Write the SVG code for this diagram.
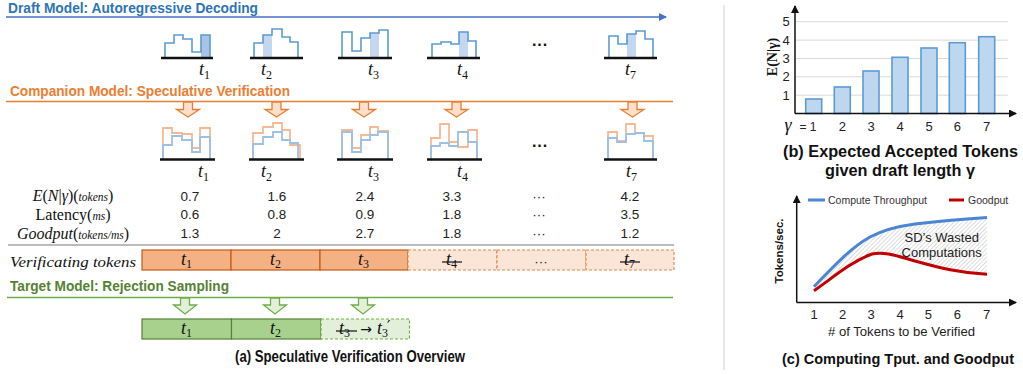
<svg xmlns="http://www.w3.org/2000/svg" width="1023" height="374" viewBox="0 0 1023 374">
<style>
.title{font-family:"Liberation Sans",Arial,sans-serif;font-weight:bold;font-size:15px}
.cap{font-family:"Liberation Sans",Arial,sans-serif;font-weight:bold;font-size:16px;fill:#111}
.tok{font-family:"Liberation Serif","DejaVu Serif",serif;font-style:italic;font-size:18px;fill:#111}
.sub{font-size:12px;font-style:normal}
.num{font-family:"Liberation Sans",Arial,sans-serif;font-size:13.5px;fill:#222;text-anchor:middle}
.dots{font-family:"Liberation Sans",Arial,sans-serif;font-size:16px;font-weight:bold;fill:#111;text-anchor:middle}
.rowl{font-family:"Liberation Serif","DejaVu Serif",serif;font-size:16px;fill:#111;text-anchor:middle}
.it{font-style:italic}
.sm{font-size:11.5px;font-style:italic}
.base{stroke:#111;stroke-width:2.5}
.dh{fill:none;stroke:#5b9bd5;stroke-width:1.6}
.dfill{fill:#bdd4ee;opacity:0.9}
.co{fill:none;stroke:#f6b994;stroke-width:1.8}
.cb{fill:none;stroke:#9cc0e6;stroke-width:1.8}
.oarr{fill:#fbe0cc;stroke:#ed7d31;stroke-width:1.3}
.garr{fill:#e2f0d9;stroke:#70ad47;stroke-width:1.3}
.vs{fill:#f4b183;stroke:#c55a11;stroke-width:1.2}
.vd{fill:#fbe5d6;stroke:#e48a4e;stroke-width:1.2;stroke-dasharray:3 2}
.gs{fill:#a9d18e;stroke:#548235;stroke-width:1.2}
.gd{fill:#e2f0d9;stroke:#70ad47;stroke-width:1.2;stroke-dasharray:3 2}
.strike{stroke:#111;stroke-width:1.2}
.ax{stroke:#111;stroke-width:1.5;fill:none}
.grid{stroke:#d9d9d9;stroke-width:1}
.tick{font-family:"Liberation Sans",Arial,sans-serif;font-size:13px;fill:#222;text-anchor:middle}
.bar{fill:#bdd7ee;stroke:#5b9bd5;stroke-width:1.6}
.leg{font-family:"Liberation Sans",Arial,sans-serif;font-size:10.5px;fill:#333}
</style>
<defs>
<marker id="bluehead" markerWidth="8" markerHeight="8" refX="7" refY="4" orient="auto" markerUnits="userSpaceOnUse"><path d="M0,0 L8,4 L0,8 Z" fill="#4472c4"/></marker>
<marker id="axhead" markerWidth="8" markerHeight="8" refX="7" refY="4" orient="auto" markerUnits="userSpaceOnUse"><path d="M0,0 L8,4 L0,8 Z" fill="#111"/></marker>
<pattern id="hatch" width="3" height="3" patternUnits="userSpaceOnUse" patternTransform="rotate(45)"><line x1="0" y1="0" x2="0" y2="3" stroke="#bbb" stroke-width="1"/></pattern>
</defs>

<!-- section titles and lines -->
<g id="draft-header">
<text class="title" x="8" y="13" fill="#2e74b5" textLength="250" lengthAdjust="spacingAndGlyphs">Draft Model: Autoregressive Decoding</text>
<line x1="6" y1="17" x2="666" y2="17" stroke="#4472c4" stroke-width="1.6" marker-end="url(#bluehead)"/>
</g>
<g id="companion-header">
<text class="title" x="10" y="96" fill="#ed7d31" textLength="280" lengthAdjust="spacingAndGlyphs">Companion Model: Speculative Verification</text>
<line x1="6" y1="101.5" x2="673" y2="101.5" stroke="#ed7d31" stroke-width="1.6"/>
</g>
<g id="target-header">
<text class="title" x="10" y="291" fill="#548235" textLength="219" lengthAdjust="spacingAndGlyphs">Target Model: Rejection Sampling</text>
<line x1="7" y1="297.5" x2="673" y2="297.5" stroke="#70ad47" stroke-width="1.6"/>
</g>

<!-- draft histograms -->
<g id="draft-t1">
<rect x="201" y="35" width="9" height="23" fill="#a9c4e6"/>
<path class="dh" d="M165,58 V43 H174 V35 H183 V39 H192 V52 H201 V35 H210 V58"/>
<line class="base" x1="161" y1="58" x2="213" y2="58"/>
<text class="tok" x="199" y="75">t<tspan class="sub" dy="4">1</tspan></text>
</g>
<g id="draft-t2">
<rect class="dfill" x="263" y="35" width="9" height="23"/>
<path class="dh" d="M254,58 V43 H263 V35 H272 V29 H282 V37 H290 V42 H298 V58"/>
<line class="base" x1="250" y1="58" x2="303" y2="58"/>
<text class="tok" x="261" y="75">t<tspan class="sub" dy="4">2</tspan></text>
</g>
<g id="draft-t3">
<rect class="dfill" x="370" y="33" width="9" height="25"/>
<path class="dh" d="M342,58 V32 H352 V51 H361 V38 H370 V33 H379 V30 H388 V58"/>
<line class="base" x1="338" y1="58" x2="392" y2="58"/>
<text class="tok" x="368" y="75">t<tspan class="sub" dy="4">3</tspan></text>
</g>
<g id="draft-t4">
<rect class="dfill" x="459" y="32" width="9" height="26"/>
<path class="dh" d="M432,58 V44 H441 V42 H451 V44 H459 V32 H468 V41 H476 V58"/>
<line class="base" x1="427" y1="58" x2="480" y2="58"/>
<text class="tok" x="457" y="75">t<tspan class="sub" dy="4">4</tspan></text>
</g>
<g id="draft-dots"><text class="dots" x="540" y="50">···</text></g>
<g id="draft-t7">
<rect class="dfill" x="627" y="34" width="9" height="24"/>
<path class="dh" d="M609,58 V36 H618 V44 H627 V34 H636 V31 H645 V39 H653 V58"/>
<line class="base" x1="604" y1="58" x2="657" y2="58"/>
<text class="tok" x="625" y="75">t<tspan class="sub" dy="4">7</tspan></text>
</g>

<!-- orange arrows -->
<g id="orange-arrows">
<path class="oarr" d="M183.5,102 H192.5 V109.5 H199.5 L188,117 L176.5,109.5 H183.5 Z"/>
<path class="oarr" d="M272,102 H281 V109.5 H288 L276.5,117 L265,109.5 H272 Z"/>
<path class="oarr" d="M359.5,102 H368.5 V109.5 H375.5 L364,117 L352.5,109.5 H359.5 Z"/>
<path class="oarr" d="M452,102 H461 V109.5 H468 L456.5,117 L445,109.5 H452 Z"/>
<path class="oarr" d="M628,102 H637 V109.5 H644 L632.5,117 L621,109.5 H628 Z"/>
</g>

<!-- companion histograms -->
<g id="comp-t1">
<path class="co" d="M163,159 V128 H172 V133 H182 V134 H192 V148 H200 V128 H210 V159"/>
<path class="cb" d="M163,159 V145 H172 V136 H182 V140 H192 V152 H200 V137 H210 V159"/>
<line class="base" x1="160" y1="159.5" x2="215" y2="159.5"/>
<text class="tok" x="198" y="177">t<tspan class="sub" dy="4">1</tspan></text>
</g>
<g id="comp-t2">
<path class="co" d="M253,159 V133 H263 V127 H273 V123 H282 V130 H290 V145 H300 V159"/>
<path class="cb" d="M253,159 V144 H263 V137 H273 V132 H282 V140 H290 V143 H298 V159"/>
<line class="base" x1="249" y1="159.5" x2="304" y2="159.5"/>
<text class="tok" x="261" y="177">t<tspan class="sub" dy="4">2</tspan></text>
</g>
<g id="comp-t3">
<path class="co" d="M342,159 V130 H352 V148 H361 V135 H370 V127 H378 V131 H388 V159"/>
<path class="cb" d="M342,159 V132 H352 V152 H361 V140 H370 V135 H378 V132 H388 V159"/>
<line class="base" x1="337" y1="159.5" x2="393" y2="159.5"/>
<text class="tok" x="368" y="177">t<tspan class="sub" dy="4">3</tspan></text>
</g>
<g id="comp-t4">
<path class="co" d="M431,159 V138 H440 V124 H449 V142 H458 V147 H468 V130 H477 V159"/>
<path class="cb" d="M431,159 V146 H440 V143 H449 V146 H458 V132 H468 V142 H477 V159"/>
<line class="base" x1="427" y1="159.5" x2="482" y2="159.5"/>
<text class="tok" x="457" y="177">t<tspan class="sub" dy="4">4</tspan></text>
</g>
<g id="comp-dots"><text class="dots" x="540" y="151">···</text></g>
<g id="comp-t7">
<path class="co" d="M608,159 V132 H617 V141 H626 V124 H635 V133 H644 V136 H653 V159"/>
<path class="cb" d="M608,159 V138 H617 V142 H626 V134 H635 V133 H644 V141 H653 V159"/>
<line class="base" x1="604" y1="159.5" x2="657" y2="159.5"/>
<text class="tok" x="626" y="177">t<tspan class="sub" dy="4">7</tspan></text>
</g>

<!-- table -->
<g id="table">
<text class="rowl" x="73" y="201"><tspan class="it">E</tspan>(<tspan class="it">N</tspan>|<tspan class="it">γ</tspan>)(<tspan class="sm">tokens</tspan>)</text>
<text class="rowl" x="73" y="220">Latency(<tspan class="sm">ms</tspan>)</text>
<text class="rowl" x="73" y="239"><tspan class="it">Goodput</tspan>(<tspan class="sm">tokens/ms</tspan>)</text>
<text class="num" x="190" y="201">0.7</text><text class="num" x="277" y="201">1.6</text><text class="num" x="365" y="201">2.4</text><text class="num" x="452" y="201">3.3</text><text class="num" x="539" y="201">···</text><text class="num" x="630" y="201">4.2</text>
<text class="num" x="190" y="219">0.6</text><text class="num" x="277" y="219">0.8</text><text class="num" x="365" y="219">0.9</text><text class="num" x="452" y="219">1.8</text><text class="num" x="539" y="219">···</text><text class="num" x="630" y="219">3.5</text>
<text class="num" x="190" y="238">1.3</text><text class="num" x="277" y="238">2</text><text class="num" x="365" y="238">2.7</text><text class="num" x="452" y="238">1.8</text><text class="num" x="539" y="238">···</text><text class="num" x="630" y="238">1.2</text>
<line x1="8" y1="245" x2="674" y2="245" stroke="#a6a6a6" stroke-width="1.5"/>
</g>

<!-- verificating tokens -->
<g id="verify-row">
<text class="tok" x="10" y="267" style="font-size:15px" textLength="126" lengthAdjust="spacingAndGlyphs">Verificating tokens</text>
<rect class="vs" x="142" y="250" width="89" height="20"/>
<rect class="vs" x="231" y="250" width="89" height="20"/>
<rect class="vs" x="320" y="250" width="88" height="20"/>
<rect class="vd" x="408" y="250" width="89" height="20"/>
<rect class="vd" x="497" y="250" width="89" height="20"/>
<rect class="vd" x="586" y="250" width="88" height="20"/>
<text class="tok" x="181" y="265">t<tspan class="sub" dy="3">1</tspan></text>
<text class="tok" x="270" y="265">t<tspan class="sub" dy="3">2</tspan></text>
<text class="tok" x="358" y="265">t<tspan class="sub" dy="3">3</tspan></text>
<text class="tok" x="446" y="265">t<tspan class="sub" dy="3">4</tspan></text>
<line class="strike" x1="442" y1="262" x2="462" y2="262"/>
<text class="num" x="541" y="266">···</text>
<text class="tok" x="624" y="265">t<tspan class="sub" dy="3">7</tspan></text>
<line class="strike" x1="620" y1="262" x2="640" y2="262"/>
</g>

<!-- green arrows -->
<g id="green-arrows">
<path class="garr" d="M180.5,298 H189.5 V305 H196.5 L185,314 L173.5,305 H180.5 Z"/>
<path class="garr" d="M270.5,298 H279.5 V305 H286.5 L275,314 L263.5,305 H270.5 Z"/>
<path class="garr" d="M358.5,298 H367.5 V305 H374.5 L363,314 L351.5,305 H358.5 Z"/>
</g>

<!-- target output row -->
<g id="target-row">
<rect class="gs" x="142" y="319" width="89.5" height="20"/>
<rect class="gs" x="231.5" y="319" width="89.5" height="20"/>
<rect class="gd" x="321" y="319" width="88.5" height="20"/>
<text class="tok" x="181" y="334">t<tspan class="sub" dy="3">1</tspan></text>
<text class="tok" x="270" y="334">t<tspan class="sub" dy="3">2</tspan></text>
<text class="tok" x="339" y="334">t<tspan class="sub" dy="3">3</tspan></text>
<line class="strike" x1="336" y1="331" x2="357" y2="331"/>
<text x="366" y="334" text-anchor="middle" font-family="DejaVu Sans,sans-serif" font-size="14" fill="#111">→</text>
<text class="tok" x="377" y="334">t<tspan class="sub" dy="3">3</tspan></text>
<text x="387" y="332" font-family="DejaVu Sans,sans-serif" font-size="15" fill="#111">′</text>
</g>

<g id="caption-a"><text class="cap" x="235" y="362" textLength="230" lengthAdjust="spacingAndGlyphs">(a) Speculative Verification Overview</text></g>

<line id="divider" x1="724" y1="5" x2="724" y2="370" stroke="#d0d0d0" stroke-width="1"/>

<!-- chart b -->
<g id="chart-b">
<line class="grid" x1="796" y1="21.7" x2="1008" y2="21.7"/>
<line class="grid" x1="796" y1="40.1" x2="1008" y2="40.1"/>
<line class="grid" x1="796" y1="58.5" x2="1008" y2="58.5"/>
<line class="grid" x1="796" y1="76.8" x2="1008" y2="76.8"/>
<line class="grid" x1="796" y1="95.2" x2="1008" y2="95.2"/>
<rect class="bar" x="805.7" y="99" width="16" height="14.5"/>
<rect class="bar" x="834.3" y="87" width="16" height="26.5"/>
<rect class="bar" x="863" y="71" width="16" height="42.5"/>
<rect class="bar" x="892" y="57.3" width="16" height="56.2"/>
<rect class="bar" x="921" y="48" width="16" height="65.5"/>
<rect class="bar" x="949.3" y="42.7" width="16" height="70.8"/>
<rect class="bar" x="978.7" y="36.7" width="16" height="76.8"/>
<line class="ax" x1="795" y1="113.5" x2="795" y2="6" marker-end="url(#axhead)"/>
<line class="ax" x1="795" y1="113.5" x2="1016" y2="113.5" marker-end="url(#axhead)"/>
<text class="tick" x="786" y="26">5</text>
<text class="tick" x="786" y="44.5">4</text>
<text class="tick" x="786" y="63">3</text>
<text class="tick" x="786" y="81">2</text>
<text class="tick" x="786" y="99.5">1</text>
<text x="772" y="57" transform="rotate(-90 772 57)" text-anchor="middle" dy="5" font-family="Liberation Serif,serif" font-weight="bold" font-size="14" fill="#111">E(N|γ)</text>
<text x="788" y="131" text-anchor="middle" font-family="Liberation Serif,serif" font-style="italic" font-size="18" fill="#111">γ</text>
<text class="tick" x="808" y="131" style="font-size:12px">= 1</text>
<text class="tick" x="842.3" y="131">2</text>
<text class="tick" x="871" y="131">3</text>
<text class="tick" x="900" y="131">4</text>
<text class="tick" x="929" y="131">5</text>
<text class="tick" x="957.3" y="131">6</text>
<text class="tick" x="986.7" y="131">7</text>
</g>
<g id="caption-b">
<text class="cap" x="783" y="157" textLength="235" lengthAdjust="spacingAndGlyphs">(b) Expected Accepted Tokens</text>
<text class="cap" x="825" y="176" textLength="150" lengthAdjust="spacingAndGlyphs">given draft length γ</text>
</g>

<!-- chart c -->
<g id="chart-c">
<path d="M814,286.7 C830,270 850,248 870,237 C885,229 900,226 915,224 C940,221 965,219 987,217.5 L987,274.3 C960,273 940,268 915,261 C900,257 885,251 872,254 C850,262 830,280 814,290.7 Z" fill="url(#hatch)"/>
<path d="M814,286.7 C830,270 850,248 870,237 C885,229 900,226 915,224 C940,221 965,219 987,217.5" fill="none" stroke="#4a86d4" stroke-width="3"/>
<path d="M814,290.7 C830,280 850,262 872,254 C885,251 900,257 915,261 C940,268 960,273 987,274.3" fill="none" stroke="#c00000" stroke-width="3"/>
<line class="ax" x1="796.7" y1="302.5" x2="796.7" y2="196" marker-end="url(#axhead)"/>
<line class="ax" x1="796.7" y1="302.5" x2="1016" y2="302.5" marker-end="url(#axhead)"/>
<line x1="808" y1="200" x2="825" y2="200" stroke="#4a86d4" stroke-width="3"/>
<text class="leg" x="828" y="204">Compute Throughput</text>
<line x1="949" y1="200" x2="964" y2="200" stroke="#c00000" stroke-width="3"/>
<text class="leg" x="968" y="204">Goodput</text>
<text class="tick" x="941.7" y="242">SD’s Wasted</text>
<text class="tick" x="941.7" y="257">Computations</text>
<text x="779" y="251" transform="rotate(-90 779 251)" text-anchor="middle" dy="4" font-family="Liberation Sans,Arial,sans-serif" font-weight="bold" font-size="11.5" fill="#111">Tokens/sec.</text>
<text class="tick" x="814" y="319">1</text>
<text class="tick" x="842.7" y="319">2</text>
<text class="tick" x="871" y="319">3</text>
<text class="tick" x="900" y="319">4</text>
<text class="tick" x="928.3" y="319">5</text>
<text class="tick" x="957.3" y="319">6</text>
<text class="tick" x="986.7" y="319">7</text>
<text class="tick" x="828" y="336" style="font-size:12.5px;text-anchor:start" textLength="147" lengthAdjust="spacingAndGlyphs"># of Tokens to be Verified</text>
</g>
<g id="caption-c"><text class="cap" x="898" y="364" style="font-size:14.5px;text-anchor:middle">(c) Computing Tput. and Goodput</text></g>
</svg>
